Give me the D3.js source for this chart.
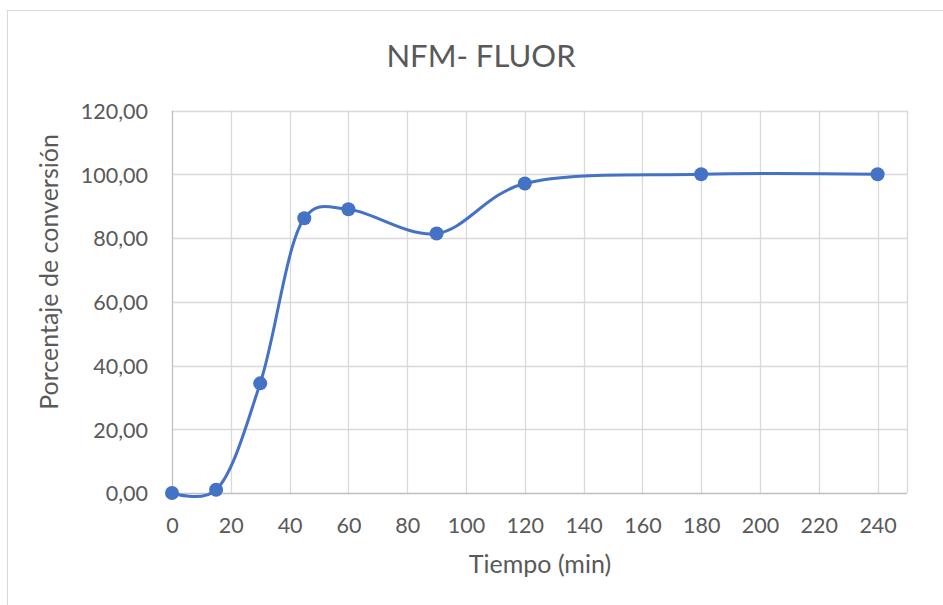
<!DOCTYPE html>
<meta charset="utf-8">
<style>
  body { margin: 0; background: #fff; }
  text { font-family: Lato, "Open Sans", sans-serif; fill: #595959; }
</style>
<body>
<script src="https://d3js.org/d3.v7.min.js"></script>
<script>

// data
var tiempo     = [0, 15, 30, 45, 60, 90, 120, 180, 240];
var conversion = [0, 1.0, 34.4, 86.2, 89.0, 81.4, 97.1, 100, 100];
var xTicks = [0, 20, 40, 60, 80, 100, 120, 140, 160, 180, 200, 220, 240];
var yTicks = [0, 20, 40, 60, 80, 100, 120];

var data = tiempo.map(function(t, i) { return {t: t, c: conversion[i]}; });

var W = 943, H = 605;
var plotL = 172, plotR = 907, plotT = 110.5, plotB = 493;

var svg = d3.select("body").append("svg")
    .attr("width", W)
    .attr("height", H);

// chart frame (only top/left show in the crop)
svg.append("rect")
    .attr("x", 7.5).attr("y", 10.5)
    .attr("width", W + 20).attr("height", H + 20)
    .attr("fill", "#fff")
    .attr("stroke", "#d9d9d9");

var x = d3.scaleLinear().domain([0, 250]).range([plotL, plotR]);
var y = d3.scaleLinear().domain([0, 120]).range([plotB, plotT]);

var es = d3.formatLocale({decimal: ",", thousands: ".", grouping: [3], currency: ["", ""]});
var yFmt = es.format(".2f");

// gridlines
svg.append("g")
  .selectAll("line.h")
    .data(yTicks.filter(function(d) { return d > 0; }))
  .enter().append("line")
    .attr("x1", plotL).attr("x2", plotR)
    .attr("y1", function(d) { return Math.round(y(d)) + 0.5; })
    .attr("y2", function(d) { return Math.round(y(d)) + 0.5; })
    .attr("stroke", "#d9d9d9").attr("stroke-width", 1.3);

svg.append("g")
  .selectAll("line.v")
    .data(xTicks.concat([250]))
  .enter().append("line")
    .attr("y1", plotT).attr("y2", plotB)
    .attr("x1", function(d) { return Math.round(x(d)) + 0.5; })
    .attr("x2", function(d) { return Math.round(x(d)) + 0.5; })
    .attr("stroke", function(d) { return d == 0 ? "#bfbfbf" : "#d9d9d9"; })
    .attr("stroke-width", 1.3);

// x axis line
svg.append("line")
    .attr("x1", plotL).attr("x2", plotR)
    .attr("y1", Math.round(y(0)) + 0.5).attr("y2", Math.round(y(0)) + 0.5)
    .attr("stroke", "#bfbfbf").attr("stroke-width", 1.5);

// y axis
var yAxis = svg.append("g")
    .attr("transform", "translate(" + (plotL - 24) + ",0)")
    .call(d3.axisLeft(y).tickValues(yTicks).tickFormat(yFmt).tickSize(0).tickPadding(0));
yAxis.select(".domain").remove();
yAxis.selectAll("text")
    .style("font-size", "21.5px")
    .attr("fill", "#595959")
    .attr("dy", "0.36em");

// x axis
var xAxis = svg.append("g")
    .attr("transform", "translate(0," + (plotB + 24) + ")")
    .call(d3.axisBottom(x).tickValues(xTicks).tickSize(0).tickPadding(0));
xAxis.select(".domain").remove();
xAxis.selectAll("text")
    .style("font-size", "21.5px")
    .attr("fill", "#595959")
    .attr("dy", "0.75em");

// smoothed line, similar to Excel's smoothing
var line = d3.line()
    .x(function(d) { return x(d.t); })
    .y(function(d) { return y(d.c); })
    .curve(d3.curveCatmullRom.alpha(0.25));

svg.append("path")
    .datum(data)
    .attr("d", line)
    .attr("fill", "none")
    .attr("stroke", "#4472c4")
    .attr("stroke-width", 3)
    .attr("stroke-linecap", "round");

svg.append("g")
  .selectAll(".dot")
    .data(data)
  .enter().append("circle")
    .attr("class", "dot")
    .attr("r", 7)
    .attr("cx", function(d) { return x(d.t); })
    .attr("cy", function(d) { return y(d.c); })
    .attr("fill", "#4472c4");

// titles
svg.append("text")
    .attr("x", 481).attr("y", 67)
    .attr("text-anchor", "middle")
    .style("font-size", "31px")
    .text("NFM- FLUOR");

svg.append("text")
    .attr("x", 540).attr("y", 573)
    .attr("text-anchor", "middle")
    .style("font-size", "25px")
    .text("Tiempo (min)");

svg.append("text")
    .attr("text-anchor", "middle")
    .attr("transform", "translate(58,272)rotate(-90)")
    .style("font-size", "25px")
    .text("Porcentaje de conversión");

</script>
</body>
